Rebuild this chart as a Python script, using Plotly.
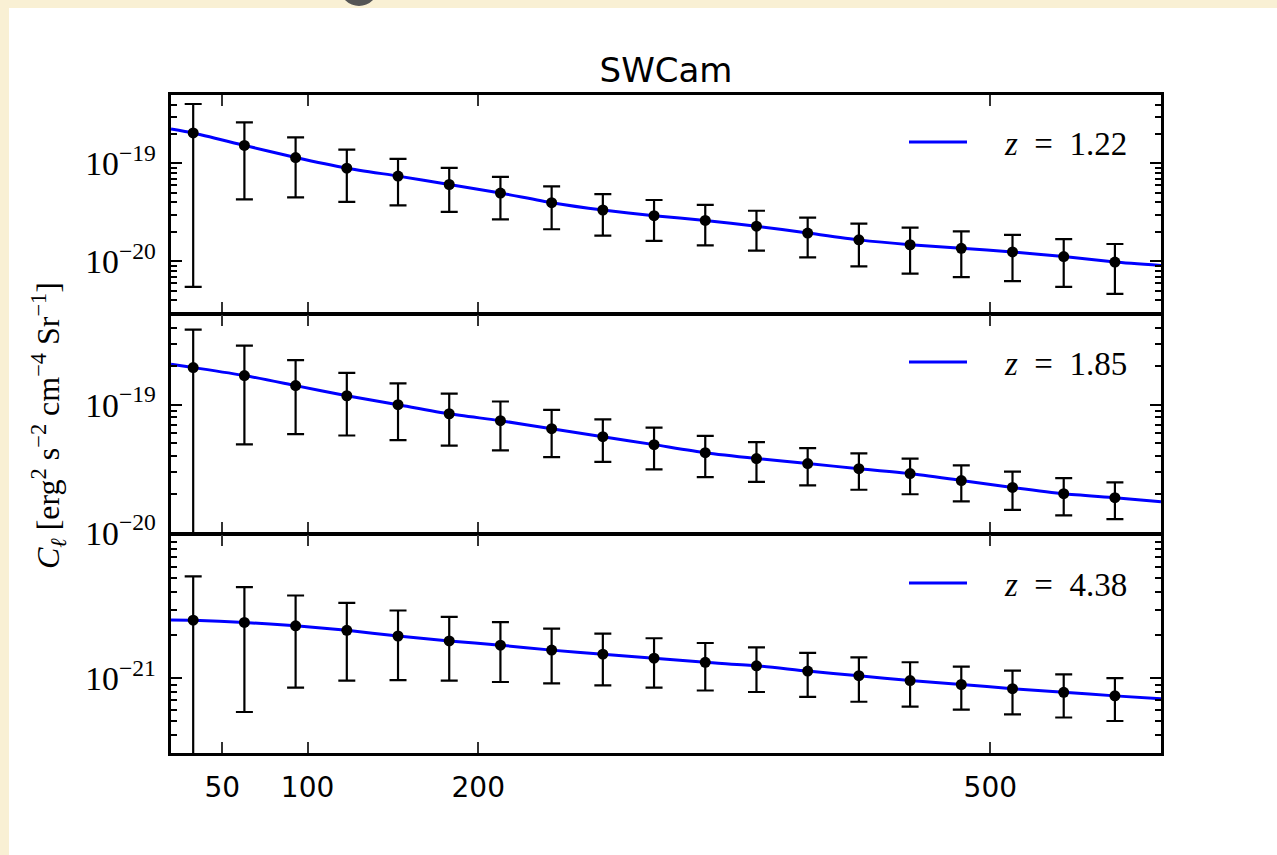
import plotly.graph_objects as go
from plotly.subplots import make_subplots

# ---------------- data ----------------
ell = [33, 63, 93, 123, 153, 183, 213, 243, 273, 303, 333, 363, 393, 423, 453, 483, 513, 543, 573]
ell_model = [20] + ell + [600]

redshifts = ["1.22", "1.85", "4.38"]

cl_z122 = [2.05e-19, 1.53e-19, 1.15e-19, 8.96e-20, 7.43e-20, 6.10e-20, 4.99e-20, 3.98e-20, 3.35e-20,
           2.93e-20, 2.62e-20, 2.29e-20, 1.95e-20, 1.66e-20, 1.48e-20, 1.36e-20, 1.25e-20, 1.12e-20, 9.86e-21]
err_z122 = [1.995e-19, 1.10e-19, 7.0e-20, 4.9e-20, 3.7e-20, 2.9e-20, 2.3e-20, 1.85e-20, 1.52e-20,
            1.31e-20, 1.16e-20, 1.0e-20, 8.5e-21, 7.7e-21, 7.3e-21, 6.7e-21, 6.2e-21, 5.7e-21, 5.2e-21]
model_z122 = [2.25e-19] + cl_z122 + [9.1e-21]

cl_z185 = [1.95e-19, 1.69e-19, 1.41e-19, 1.175e-19, 1.0e-19, 8.5e-20, 7.5e-20, 6.5e-20, 5.63e-20,
           4.88e-20, 4.22e-20, 3.8e-20, 3.47e-20, 3.17e-20, 2.9e-20, 2.56e-20, 2.26e-20, 2.02e-20, 1.88e-20]
err_z185 = [1.9e-19, 1.2e-19, 8.2e-20, 6.0e-20, 4.7e-20, 3.7e-20, 3.1e-20, 2.6e-20, 2.05e-20,
            1.75e-20, 1.5e-20, 1.3e-20, 1.12e-20, 1.0e-20, 9.0e-21, 8.0e-21, 7.5e-21, 6.5e-21, 6.0e-21]
model_z185 = [2.07e-19] + cl_z185 + [1.75e-20]

cl_z438 = [2.54e-21, 2.45e-21, 2.32e-21, 2.16e-21, 1.97e-21, 1.82e-21, 1.70e-21, 1.57e-21, 1.47e-21,
           1.38e-21, 1.29e-21, 1.22e-21, 1.12e-21, 1.04e-21, 9.62e-22, 9.03e-22, 8.44e-22, 7.96e-22, 7.52e-22]
err_z438 = [2.6e-21, 1.87e-21, 1.46e-21, 1.2e-21, 1.0e-21, 8.6e-22, 7.6e-22, 6.5e-22, 5.8e-22,
            5.2e-22, 4.7e-22, 4.2e-22, 3.8e-22, 3.56e-22, 3.3e-22, 3.0e-22, 2.85e-22, 2.65e-22, 2.5e-22]
model_z438 = [2.55e-21] + cl_z438 + [7.19e-22]

panels = [
    (cl_z122, err_z122, model_z122),
    (cl_z185, err_z185, model_z185),
    (cl_z438, err_z438, model_z438),
]
y_ranges = [(-20.523, -18.301), (-20.0, -18.301), (-21.523, -20.002)]
x_ticks = [50, 100, 200, 500]

SERIF = "Liberation Serif"
SANS = "DejaVu Sans"

# layout geometry (pixels)
W, H = 1277, 855
ML, MR, MT, MB = 171, 116, 95, 102
PW, PH = W - ML - MR, H - MT - MB
LW = 2.5


def px(xp):
    return (xp - ML) / PW


def py(yp):
    return (H - MB - yp) / PH


# ---------------- figure ----------------
fig = make_subplots(rows=3, cols=1, shared_xaxes=True, vertical_spacing=LW / PH)

legend_names = ["legend", "legend2", "legend3"]
for i, (cl, err, model) in enumerate(panels):
    r = i + 1
    fig.add_trace(go.Scatter(
        x=ell_model, y=model, mode="lines",
        line=dict(color="#0000ff", width=3, shape="spline", smoothing=0.6),
        name="&nbsp;&nbsp;&nbsp;&nbsp;<i>z</i>&nbsp;&nbsp;=&nbsp;&nbsp;" + redshifts[i],
        legend=legend_names[i], showlegend=True,
    ), row=r, col=1)
    fig.add_trace(go.Scatter(
        x=ell, y=cl, mode="markers",
        marker=dict(color="black", size=11),
        error_y=dict(type="data", array=err, visible=True, color="black",
                     thickness=2.2, width=8.5),
        showlegend=False,
    ), row=r, col=1)

axis_common = dict(
    showline=True, linecolor="black", linewidth=LW, mirror="allticks",
    ticks="inside", showgrid=False, zeroline=False,
)

for i in range(3):
    r = i + 1
    fig.update_xaxes(
        range=[20, 600], tickmode="array", tickvals=x_ticks,
        ticklen=11, tickwidth=1.5, tickcolor="#333333",
        tickfont=dict(family=SANS, size=28, color="black"),
        ticklabelstandoff=8,
        row=r, col=1, **axis_common,
    )
    fig.update_yaxes(
        type="log", range=list(y_ranges[i]), dtick=1,
        exponentformat="power", showexponent="all",
        ticklen=11, tickwidth=1.8, tickcolor="black",
        tickfont=dict(family=SERIF, size=27, color="black"),
        ticklabelstandoff=7,
        minor=dict(ticks="inside", ticklen=6, tickwidth=1.5, tickcolor="black", showgrid=False),
        row=r, col=1, **axis_common,
    )

legend_py = [142, 362, 583]
legend_layout = {}
for i, name in enumerate(legend_names):
    legend_layout[name] = dict(
        x=px(904), xanchor="left", y=py(legend_py[i]), yanchor="middle",
        bgcolor="rgba(0,0,0,0)", borderwidth=0,
        font=dict(family=SERIF, size=33, color="black"),
        itemwidth=58,
    )

fig.update_layout(
    width=W, height=H,
    margin=dict(l=ML, r=MR, t=MT, b=MB),
    paper_bgcolor="#f9f0d4",
    plot_bgcolor="white",
    showlegend=True,
    title=dict(text="SWCam", x=0.5, xref="paper", xanchor="center",
               y=1 - 70 / H, yanchor="middle",
               font=dict(family=SANS, size=34, color="black")),
    **legend_layout,
)

# white sheet behind the figure (page decoration)
fig.add_shape(type="rect", xref="paper", yref="paper",
              x0=px(9), x1=px(W + 20), y0=py(H + 20), y1=py(8),
              fillcolor="white", line_width=0, layer="below")
# partial dark glyph at the top edge
fig.add_shape(type="circle", xref="paper", yref="paper",
              x0=px(340), x1=px(378), y0=py(6), y1=py(-32),
              fillcolor="#555555", line_width=0, layer="above")

fig.add_annotation(
    text="<i>C</i><sub><i>ℓ</i></sub> [erg<sup>2</sup> s<sup>−2</sup> cm<sup>−4</sup> Sr<sup>−1</sup>]",
    xref="paper", yref="paper", x=px(48), y=py(426),
    xanchor="center", yanchor="middle", textangle=-90, showarrow=False,
    font=dict(family=SERIF, size=32, color="black"),
)

fig.write_html(
    "out.html",
    config={"displayModeBar": False},
    post_script="document.body.style.margin='0px';document.body.style.overflow='hidden';"
                "document.body.style.background='#f9f0d4';",
)
